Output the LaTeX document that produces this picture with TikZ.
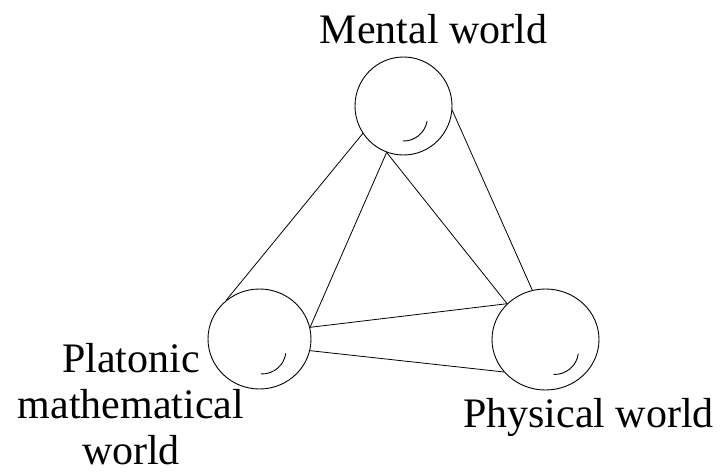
\documentclass[tikz,border=0pt]{standalone}
\usepackage{fontspec}
\setmainfont{Liberation Serif}
\usetikzlibrary{shapes.geometric}
\begin{document}
\begin{tikzpicture}[x=1pt,y=1pt,
  ball/.style={draw, ellipse, inner sep=0pt, line width=0.9pt},
  link/.style={line width=0.8pt},
  shine/.style={line width=0.9pt},
  lbl/.style={font=\fontsize{42}{46}\selectfont, inner sep=0pt, align=center}]
\useasboundingbox (0,0) rectangle (721,475);
\node[ball, minimum width=97pt, minimum height=98pt] (T) at (403.5,369) {};
\node[ball, minimum width=103pt, minimum height=100pt] (L) at (259.5,136) {};
\node[ball, minimum width=107pt, minimum height=101pt] (R) at (545.5,135.5) {};
\draw[shine] ([shift={(23.6,-15.2)}]T.center) arc[start angle=-10, end angle=-92, radius=24];
\draw[shine] ([shift={(26.3,-14.3)}]L.center) arc[start angle=-8, end angle=-92, radius=24];
\draw[shine] ([shift={(32.8,-14.3)}]R.center) arc[start angle=-8, end angle=-92, radius=24];
\draw[link] (T.214) -- (L.131.4);
\draw[link] (T.250.3) -- (L.13.6);
\draw[link] (T.250.3) -- (R.137.3);
\draw[link] (T.355) -- (R.105.6);
\draw[link] (L.13.6) -- (R.137.3);
\draw[link] (L.-13.4) -- (R.218.9);
\node[lbl, anchor=base] (mt) at (433.5,431) {Mental world};
\node[lbl, anchor=base] (ph) at (588.5,48) {Physical world};
\node[lbl, anchor=north] (pl) at (131,132) {Platonic\\mathematical\\world};
\end{tikzpicture}
\end{document}
